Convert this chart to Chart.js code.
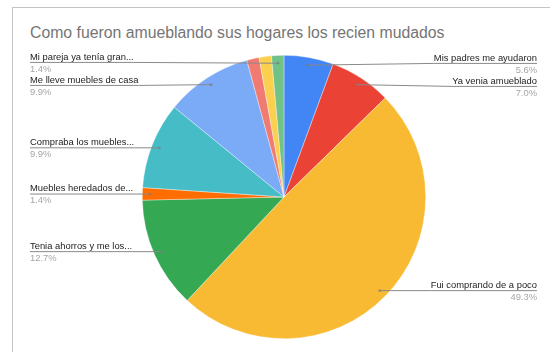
<!DOCTYPE html>
<html>
<head>
<meta charset="utf-8">
<title>Como fueron amueblando sus hogares los recien mudados</title>
<script src="https://cdn.jsdelivr.net/npm/chart.js@4"></script>
<style>
    html, body { margin: 0; padding: 0; background: #ffffff; }
    #wrap { position: relative; width: 550px; height: 352px; overflow: hidden; }
    #frame {
        position: absolute; left: 12px; top: 7px; right: -10px; bottom: -10px;
        border-left: 1px solid #c4c4c4; border-top: 1px solid #c4c4c4;
    }
    #title {
        position: absolute; left: 30px; top: 24px;
        font: 15.8px "Liberation Sans", Arial, sans-serif; color: #757575;
        white-space: nowrap;
    }
    canvas { position: absolute; left: 0; top: 0; }
</style>
</head>
<body>
<div id="wrap">
    <div id="frame"></div>
    <div id="title">Como fueron amueblando sus hogares los recien mudados</div>
    <canvas id="pieChart" width="550" height="352"></canvas>
</div>
<script>
// Respuestas por categoria (cantidad de personas)
const categories = [
    'Mis padres me ayudaron',
    'Ya venia amueblado',
    'Fui comprando de a poco',
    'Tenia ahorros y me los...',
    'Muebles heredados de...',
    'Compraba los muebles...',
    'Me lleve muebles de casa',
    '',
    '',
    'Mi pareja ya tenía gran...'
];
const responses = [4, 5, 35, 9, 1, 7, 7, 1, 1, 1];
const sliceColors = [
    '#4285F4', '#EA4335', '#F8BA32', '#34A853', '#FF6D01',
    '#46BDC6', '#7BAAF7', '#F07B72', '#FCD04F', '#71C287'
];

const FONT = '"Liberation Sans", Arial, sans-serif';
const LABEL_GAP = 23;

// Leader-line labels drawn next to the pie, one column per side
const sideLabels = {
    id: 'sideLabels',
    afterDatasetsDraw(chart) {
        const ctx = chart.ctx;
        const meta = chart.getDatasetMeta(0);
        const total = responses.reduce((a, b) => a + b, 0);
        const left = [], right = [];

        meta.data.forEach((arc, i) => {
            if (!categories[i]) return;
            const p = arc.getProps(['x', 'y', 'startAngle', 'endAngle', 'outerRadius']);
            const mid = (p.startAngle + p.endAngle) / 2;
            const r = p.outerRadius * 0.945;
            const item = {
                i,
                ax: p.x + Math.cos(mid) * r,
                ay: p.y + Math.sin(mid) * r,
                pct: (responses[i] / total * 100).toFixed(1) + '%'
            };
            item.ly = item.ay;
            (Math.cos(mid) >= 0 ? right : left).push(item);
        });

        // spread labels apart so they don't overlap
        [left, right].forEach(col => {
            col.sort((a, b) => a.ay - b.ay);
            for (let pass = 0; pass < 20; pass++) {
                for (let k = 1; k < col.length; k++) {
                    const d = col[k].ly - col[k - 1].ly;
                    if (d < LABEL_GAP) {
                        const push = (LABEL_GAP - d) / 2;
                        col[k].ly += push;
                        col[k - 1].ly -= push;
                    }
                }
            }
        });

        ctx.save();
        ctx.font = '9.4px ' + FONT;
        const draw = (item, side) => {
            const name = categories[item.i];
            const w = ctx.measureText(name).width;
            const x0 = side === 'left' ? 30 : 537;
            const xEnd = side === 'left' ? x0 + w : x0 - w;

            ctx.strokeStyle = '#8a8a8a';
            ctx.lineWidth = 1;
            ctx.beginPath();
            ctx.moveTo(x0, item.ly);
            ctx.lineTo(xEnd, item.ly);
            ctx.lineTo(item.ax, item.ay);
            ctx.stroke();

            ctx.fillStyle = 'rgba(120,120,120,0.6)';
            ctx.beginPath();
            ctx.arc(item.ax, item.ay, 1.4, 0, Math.PI * 2);
            ctx.fill();

            ctx.textAlign = side === 'left' ? 'left' : 'right';
            ctx.textBaseline = 'middle';
            ctx.fillStyle = '#222222';
            ctx.fillText(name, x0, item.ly - 5.5);
            ctx.fillStyle = '#a5a5a5';
            ctx.fillText(item.pct, x0, item.ly + 6.5);
        };
        left.forEach(it => draw(it, 'left'));
        right.forEach(it => draw(it, 'right'));
        ctx.restore();
    }
};

const pieCtx = document.getElementById('pieChart').getContext('2d');
new Chart(pieCtx, {
    type: 'pie',
    data: {
        labels: categories,
        datasets: [{
            data: responses,
            backgroundColor: sliceColors,
            borderColor: 'rgba(255,255,255,0.6)',
            borderWidth: 0.6
        }]
    },
    options: {
        responsive: false,
        animation: false,
        rotation: 0,
        layout: {
            padding: { top: 55, bottom: 13, left: 142, right: 124 }
        },
        plugins: {
            legend: { display: false },
            tooltip: { enabled: false }
        }
    },
    plugins: [sideLabels]
});
</script>
</body>
</html>
